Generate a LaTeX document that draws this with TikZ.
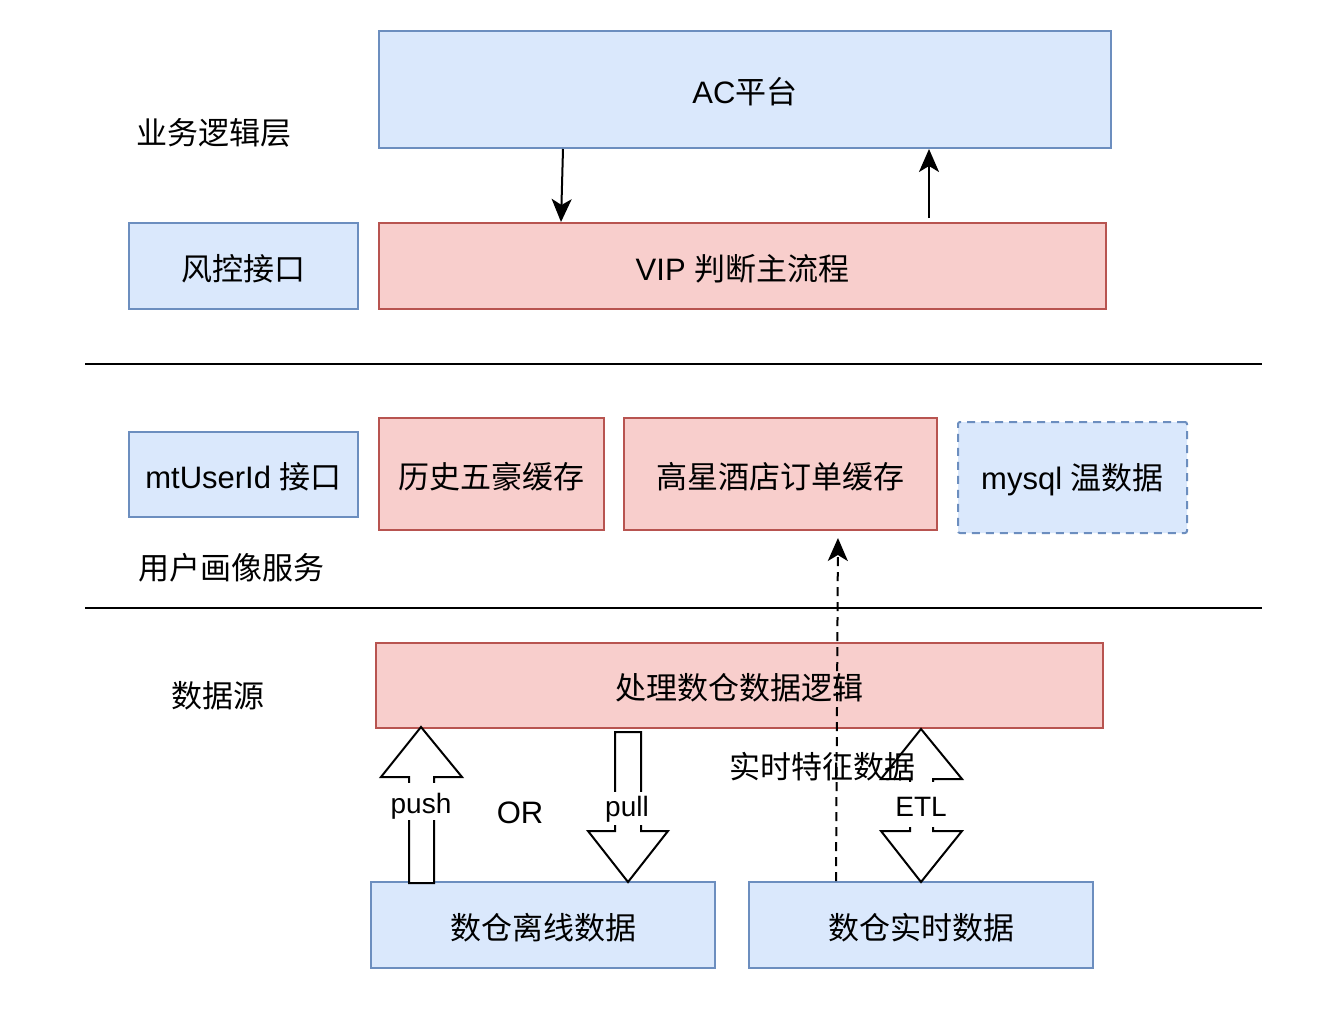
\documentclass[tikz,border=0pt]{standalone}
\usepackage{fontspec}
\setmainfont{Noto Sans CJK SC}
\newfontfamily\lat{Liberation Sans}
\usetikzlibrary{arrows.meta}
\definecolor{bfill}{RGB}{218,232,252}
\definecolor{bline}{RGB}{108,142,191}
\definecolor{rfill}{RGB}{248,206,204}
\definecolor{rline}{RGB}{184,84,80}
\newcommand\dn[2][2.5pt]{\raisebox{-#1}[\height][\depth]{#2}}
\begin{document}
\begin{tikzpicture}[x=1pt,y=-1pt,
  every node/.style={font=\fontsize{31}{37}\selectfont, inner sep=0pt},
  bluebox/.style={draw=bline, fill=bfill, line width=2pt},
  redbox/.style={draw=rline, fill=rfill, line width=2pt},
  dashbox/.style={draw=bline, fill=bfill, line width=2pt, dash pattern=on 8pt off 6pt, rounded corners=2pt},
  plain/.style={},
  sep/.style={line width=2.2pt, black},
  arr/.style={line width=2pt, -{Stealth[length=23pt, width=20pt, inset=6pt]}},
  darr/.style={line width=2pt, dash pattern=on 9pt off 6pt, -{Stealth[length=23pt, width=20pt, inset=6pt]}},
  blockarr/.style={line width=2pt, draw=black, fill=white, line join=miter},
  alabel/.style={fill=white, font=\lat\fontsize{28}{32}\selectfont, inner xsep=2pt}
]
\useasboundingbox (0,0) rectangle (1334,1026);
\fill[white] (0,0) rectangle (1334,1026);

% boxes
\node[bluebox, minimum width=732pt, minimum height=117pt] (ac) at (745,89.5) {\dn{{\lat AC}平台}};
\node[redbox, minimum width=727pt, minimum height=86pt] (vip) at (742.5,266) {\dn{{\lat VIP }判断主流程}};
\node[bluebox, minimum width=229pt, minimum height=86pt] (fk) at (243.5,266) {\dn{风控接口}};
\node[bluebox, minimum width=229pt, minimum height=85pt] (mt) at (243.5,474.5) {\dn{{\lat mtUserId }接口}};
\node[redbox, minimum width=225pt, minimum height=112pt] (ls) at (491.5,474) {\dn{历史五豪缓存}};
\node[redbox, minimum width=313pt, minimum height=112pt] (gx) at (780.5,474) {\dn{高星酒店订单缓存}};
\node[dashbox, minimum width=229pt, minimum height=111pt] (my) at (1072.5,477.5) {\dn{{\lat mysql }温数据}};
\node[redbox, minimum width=727pt, minimum height=85pt] (cl) at (739.5,685.5) {\dn{处理数仓数据逻辑}};
\node[bluebox, minimum width=344pt, minimum height=86pt] (lx) at (543,925) {\dn{数仓离线数据}};
\node[bluebox, minimum width=344pt, minimum height=86pt] (ss) at (921,925) {\dn{数仓实时数据}};

% layer labels
\node[plain] (l1) at (214,133) {业务逻辑层};
\node[plain] (l2) at (231,568) {用户画像服务};
\node[plain] (l3) at (218,696) {数据源};
\node[plain, font=\lat\fontsize{31}{37}\selectfont] (or) at (520,813) {OR};

% separators
\coordinate (s1a) at (85,364); \coordinate (s1b) at (1262,364);
\coordinate (s2a) at (85,608); \coordinate (s2b) at (1262,608);
\draw[sep] (s1a) -- (s1b);
\draw[sep] (s2a) -- (s2b);

% arrows between AC and VIP
\draw[arr] ([xshift=-182pt]ac.south) -- ([xshift=-181.5pt]vip.north);
\draw[arr, shorten <=4pt] ([xshift=186.5pt]vip.north) -- ([xshift=184pt]ac.south);

% block arrows
\draw[blockarr] (421,727) -- (462,777) -- (434,777) -- (434,883) -- (409,883) -- (409,777) -- (381,777) -- cycle;
\node[alabel, minimum height=37pt] (push) at (421,801.5) {\dn[4.5pt]{push}};
\draw[blockarr] (615,732) -- (641,732) -- (641,831) -- (668,831) -- (628,882) -- (588,831) -- (615,831) -- cycle;
\node[alabel, minimum height=33pt] (pull) at (627,808) {\dn[1.5pt]{pull}};
\draw[blockarr] (921,729) -- (962,779) -- (933,779) -- (933,831) -- (962,831) -- (921,882) -- (881,831) -- (910,831) -- (910,779) -- (881,779) -- cycle;
\node[alabel, minimum height=45pt] (etl) at (921,804.5) {\dn[2pt]{ETL}};

\node[plain] (rt) at (822,767) {实时特征数据};

% dashed arrow
\draw[darr, shorten >=7pt] ([xshift=-85pt]ss.north) -- ([xshift=57.5pt]gx.south);
\end{tikzpicture}
\end{document}
